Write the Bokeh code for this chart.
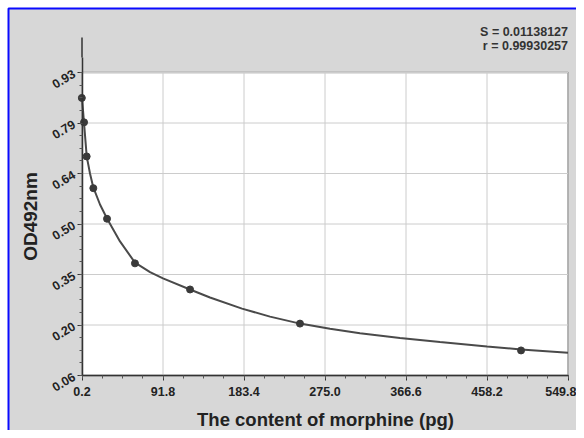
import numpy as np
from bokeh.plotting import figure
from bokeh.models import Range1d, FixedTicker, Label
from bokeh.embed import file_html
from bokeh.resources import INLINE

# ---- data ----
x_ticks = [0.2, 91.8, 183.4, 275.0, 366.6, 458.2, 549.8]
x_tick_labels = ["0.2", "91.8", "183.4", "275.0", "366.6", "458.2", "549.8"]
y_ticks = [0.06, 0.205, 0.35, 0.495, 0.64, 0.785, 0.93]
y_tick_labels = ["0.06", "0.20", "0.35", "0.50", "0.64", "0.79", "0.93"]

std_conc = [0.0, 2.5, 5.5, 13.0, 28.5, 60.1, 122.4, 246.7, 496.7]
std_od = [0.857, 0.787, 0.689, 0.598, 0.510, 0.382, 0.307, 0.209, 0.132]

curve_x = [0.2, 2.46, 5.52, 9.25, 12.98, 20.56, 28.47, 43.17, 60.14, 77.16,
           91.80, 122.33, 144.95, 181.14, 212.80, 246.73, 280.65, 314.58,
           359.81, 405.05, 458.20, 496.65, 549.8]
curve_y = [0.858, 0.786, 0.689, 0.640, 0.600, 0.551, 0.511, 0.445, 0.384, 0.357,
           0.339, 0.307, 0.284, 0.252, 0.229, 0.209, 0.194, 0.181,
           0.168, 0.156, 0.143, 0.135, 0.125]

stat_lines = ["S = 0.01138127", "r = 0.99930257"]
x_title = "The content of morphine (pg)"
y_title = "OD492nm"

FONT = "Liberation Sans"
GRAY_BG = "#d7d7d7"
AXIS_COLOR = "#333333"

# ---- layout (canvas pixels) ----
W, H = 576, 430
AX_LEFT, AX_RIGHT = 81.5, 567.5      # pixel of first / last x tick
AX_TOP, AX_BOTTOM = 72.0, 375.0      # pixel of top / bottom y tick
AXIS_LINE_TOP = 37.0                 # y axis line extends up to here
AXIS_BOUND_TOP = 57.0                # top of the axis bounds (centres the title)
BORDER = 8.0                          # blue frame line

x_lo, x_hi = x_ticks[0], x_ticks[-1]
y_lo, y_hi = y_ticks[0], y_ticks[-1]
sx = (AX_RIGHT - AX_LEFT) / (x_hi - x_lo)
sy = (AX_BOTTOM - AX_TOP) / (y_hi - y_lo)


def px_x(px):
    return x_lo + (px - AX_LEFT) / sx


def px_y(py):
    return y_hi - (py - AX_TOP) / sy


p = figure(width=W, height=H, output_backend="svg", toolbar_location=None,
           x_range=Range1d(px_x(0), px_x(W)), y_range=Range1d(px_y(H), px_y(0)),
           min_border=0)
p.background_fill_color = "white"
p.border_fill_color = "white"
p.outline_line_color = None
p.xgrid.visible = False
p.ygrid.visible = False

# gray panel with blue edge
p.quad(left=[px_x(BORDER)], right=[px_x(W + 20)], bottom=[px_y(H + 20)], top=[px_y(BORDER)],
       fill_color=GRAY_BG, line_color="#0a0aff", line_width=2)

# white plotting area
p.quad(left=[x_lo], right=[x_hi], bottom=[y_lo], top=[y_hi],
       fill_color="white", line_color="#858585", line_width=1.6)

# grid lines
p.segment(x0=x_ticks, x1=x_ticks, y0=[y_lo] * len(x_ticks), y1=[y_hi] * len(x_ticks),
          line_color="#cccccc", line_width=1)
p.segment(x0=[x_lo] * len(y_ticks), x1=[x_hi] * len(y_ticks), y0=y_ticks, y1=y_ticks,
          line_color="#cccccc", line_width=1)

# upper extension of the y axis line
p.segment(x0=[x_lo], x1=[x_lo], y0=[px_y(AXIS_BOUND_TOP)], y1=[px_y(AXIS_LINE_TOP)],
          line_color=AXIS_COLOR, line_width=1.5)

# fitted curve and standards
p.line(curve_x, curve_y, line_color="#4a4a4a", line_width=2)
p.scatter(std_conc, std_od, size=7, marker="circle", fill_color="#3a3a3a",
          line_color="#3a3a3a")

# axes (fixed at the data origin)
x_minor = list(np.linspace(x_lo, x_hi, 25))
y_minor = list(np.linspace(y_lo, y_hi, 25))
p.xaxis.ticker = FixedTicker(ticks=x_ticks, minor_ticks=x_minor)
p.yaxis.ticker = FixedTicker(ticks=y_ticks, minor_ticks=y_minor)
p.xaxis.major_label_overrides = {t: l for t, l in zip(x_ticks, x_tick_labels)}
p.yaxis.major_label_overrides = {t: l for t, l in zip(y_ticks, y_tick_labels)}
p.xaxis.fixed_location = y_lo
p.yaxis.fixed_location = x_lo
p.xaxis.bounds = (x_lo, x_hi)
p.yaxis.bounds = (y_lo, px_y(AXIS_BOUND_TOP))
for ax in (p.xaxis[0], p.yaxis[0]):
    ax.axis_line_color = AXIS_COLOR
    ax.axis_line_width = 1.5
    ax.major_tick_line_color = AXIS_COLOR
    ax.minor_tick_line_color = "#555555"
    ax.major_tick_in = 0
    ax.major_tick_out = 5
    ax.minor_tick_in = 0
    ax.minor_tick_out = 3
    ax.major_label_text_font = FONT
    ax.major_label_text_font_style = "bold"
    ax.major_label_text_font_size = "12.5px"
    ax.major_label_text_color = "#222222"
    ax.axis_label_text_font = FONT
    ax.axis_label_text_font_style = "bold"
    ax.axis_label_text_color = "#222222"
p.xaxis.major_label_standoff = 6
p.yaxis.major_label_standoff = 3
p.yaxis.major_label_orientation = 0.55

p.xaxis.axis_label = x_title
p.xaxis.axis_label_text_font_size = "18.5px"
p.xaxis.axis_label_standoff = 10

p.yaxis.axis_label = y_title
p.yaxis.axis_label_text_font_size = "19px"
p.yaxis.axis_label_standoff = 5

# statistics text
for line, ypix in zip(stat_lines, (31, 45)):
    p.add_layout(Label(x=x_hi, y=px_y(ypix), text=line, text_align="right",
                       text_baseline="middle", text_font=FONT, text_font_style="bold",
                       text_font_size="12.5px", text_color="#333333"))

open("out.html", "w").write(file_html(p, INLINE))
